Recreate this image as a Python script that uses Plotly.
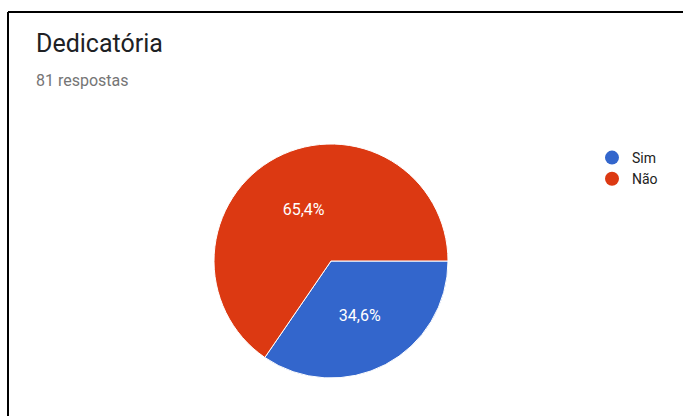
import plotly.graph_objects as go

categories = ["Sim", "Não"]
counts = [28, 53]
colors = ["#3366cc", "#dc3912"]
title_text = "Dedicatória"
subtitle_text = "81 respostas"

W, H = 683, 416
total = sum(counts)
labels_txt = [f"{c / total * 100:.1f}%".replace(".", ",") for c in counts]

fig = go.Figure()
fig.add_trace(go.Pie(
    labels=categories, values=counts, text=labels_txt,
    textinfo="text", textposition="inside", insidetextorientation="horizontal",
    sort=False, direction="clockwise", rotation=90,
    marker=dict(colors=colors, line=dict(color="white", width=1)),
    textfont=dict(family="Roboto", size=16, color="white"),
    domain=dict(x=[214 / W, 448 / W], y=[(H - 378) / H, (H - 144) / H]),
    showlegend=False, hoverinfo="label+percent",
))
for cat, col in zip(categories, colors):
    fig.add_trace(go.Scatter(x=[None], y=[None], mode="markers", name=cat,
                             marker=dict(color=col, size=14, symbol="circle")))

fig.update_layout(
    width=W, height=H, margin=dict(l=0, r=0, t=0, b=0),
    paper_bgcolor="white", plot_bgcolor="white",
    font=dict(family="Roboto", color="#222222"),
    xaxis=dict(visible=False), yaxis=dict(visible=False),
    legend=dict(x=592 / W, y=(H - 142) / H, xanchor="left", yanchor="top",
                font=dict(family="Roboto", size=14, color="#222222"),
                itemwidth=30, tracegroupgap=0, bgcolor="rgba(0,0,0,0)"),
    shapes=[
        dict(type="line", xref="paper", yref="paper", x0=8 / W, x1=1, y0=(H - 12) / H, y1=(H - 12) / H,
             line=dict(color="black", width=2)),
        dict(type="line", xref="paper", yref="paper", x0=8 / W, x1=8 / W, y0=0, y1=(H - 12) / H,
             line=dict(color="black", width=2)),
    ],
    annotations=[
        dict(text=title_text, xref="paper", yref="paper", x=34 / W, y=(H - 44) / H,
             xanchor="left", yanchor="middle", showarrow=False,
             font=dict(family="Roboto", size=25, color="#202124")),
        dict(text=subtitle_text, xref="paper", yref="paper", x=34 / W, y=(H - 80) / H,
             xanchor="left", yanchor="middle", showarrow=False,
             font=dict(family="Roboto", size=16, color="#757575")),
    ],
)
fig.write_html("out.html", config={"displayModeBar": False},
               post_script="document.body.style.margin='0';")
